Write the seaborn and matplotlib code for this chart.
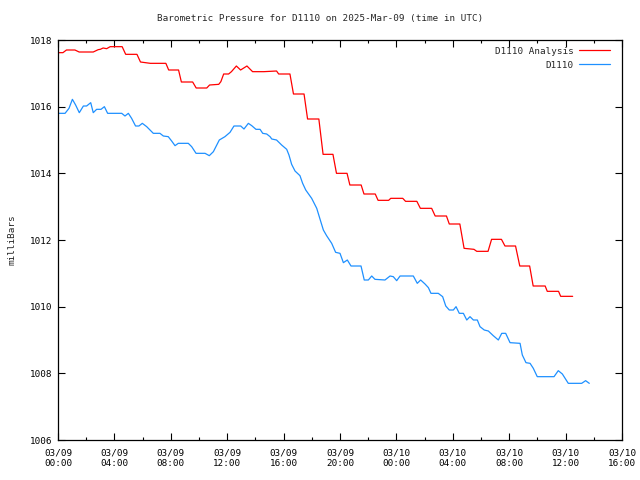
import matplotlib
matplotlib.use("Agg")
import pandas as pd
import seaborn as sns
from matplotlib import pyplot as plt
import matplotlib.dates as mdates

# hours after 2025-03-09 00:00 UTC, pressure in millibars
analysis_hours = [0.0, 0.35, 0.6, 1.2, 1.5, 2.5, 2.85, 3.0, 3.2, 3.45, 3.7, 4.55, 4.8,
                  5.6, 5.85, 6.55, 7.65, 7.85, 8.55, 8.75, 9.55, 9.8, 10.55, 10.75,
                  11.4, 11.55, 11.75, 12.1, 12.3, 12.65, 12.95, 13.4, 13.8, 14.6,
                  15.5, 15.65, 16.45, 16.7, 17.45, 17.7, 18.5, 18.8, 19.5, 19.75,
                  20.5, 20.7, 21.5, 21.7, 22.5, 22.7, 23.45, 23.6, 24.45, 24.65,
                  25.45, 25.7, 26.5, 26.75, 27.55, 27.75, 28.5, 28.8, 29.5, 29.7,
                  30.5, 30.75, 31.45, 31.7, 32.45, 32.75, 33.45, 33.7, 34.55, 34.7,
                  35.5, 35.65, 36.5]
analysis_mbar = [1017.62, 1017.62, 1017.70, 1017.70, 1017.64, 1017.64, 1017.71, 1017.72,
                 1017.76, 1017.74, 1017.80, 1017.80, 1017.57, 1017.57, 1017.34, 1017.30,
                 1017.30, 1017.10, 1017.10, 1016.74, 1016.74, 1016.56, 1016.56, 1016.65,
                 1016.67, 1016.75, 1016.98, 1016.98, 1017.05, 1017.22, 1017.10, 1017.22,
                 1017.05, 1017.05, 1017.07, 1016.98, 1016.98, 1016.38, 1016.38, 1015.63,
                 1015.63, 1014.57, 1014.57, 1014.00, 1014.00, 1013.65, 1013.65, 1013.38,
                 1013.38, 1013.19, 1013.19, 1013.25, 1013.25, 1013.16, 1013.16, 1012.95,
                 1012.95, 1012.72, 1012.72, 1012.48, 1012.48, 1011.75, 1011.72, 1011.66,
                 1011.66, 1012.02, 1012.02, 1011.82, 1011.82, 1011.22, 1011.22, 1010.62,
                 1010.62, 1010.46, 1010.46, 1010.31, 1010.31]

station_hours = [0.0, 0.5, 0.78, 1.02, 1.25, 1.51, 1.8, 2.03, 2.32, 2.5, 2.74, 3.05, 3.29,
                 3.52, 4.52, 4.75, 4.99, 5.22, 5.5, 5.74, 5.98, 6.29, 6.76, 7.23, 7.47,
                 7.82, 8.06, 8.3, 8.53, 9.24, 9.48, 9.79, 10.43, 10.73, 11.02, 11.44,
                 11.84, 12.2, 12.48, 12.96, 13.19, 13.5, 13.74, 14.04, 14.33, 14.52,
                 14.8, 15.04, 15.16, 15.5, 15.86, 16.22, 16.38, 16.57, 16.81, 17.16,
                 17.35, 17.57, 17.99, 18.35, 18.58, 18.82, 19.05, 19.41, 19.69, 20.0,
                 20.24, 20.52, 20.78, 21.49, 21.72, 22.01, 22.25, 22.48, 23.19, 23.55,
                 23.78, 24.02, 24.26, 25.2, 25.48, 25.72, 26.03, 26.27, 26.45, 26.97,
                 27.28, 27.5, 27.75, 28.04, 28.23, 28.46, 28.75, 28.99, 29.22, 29.46,
                 29.74, 29.93, 30.23, 30.52, 30.87, 31.23, 31.47, 31.75, 32.06, 32.77,
                 32.93, 33.19, 33.48, 33.71, 33.99, 35.18, 35.48, 35.77, 36.19, 37.14,
                 37.42, 37.68]
station_mbar = [1015.80, 1015.80, 1015.95, 1016.22, 1016.05, 1015.82, 1016.02, 1016.02,
                1016.12, 1015.82, 1015.92, 1015.92, 1016.00, 1015.80, 1015.80, 1015.72,
                1015.80, 1015.65, 1015.42, 1015.42, 1015.50, 1015.40, 1015.20, 1015.20,
                1015.12, 1015.10, 1014.97, 1014.83, 1014.90, 1014.90, 1014.80, 1014.60,
                1014.60, 1014.53, 1014.65, 1015.00, 1015.10, 1015.23, 1015.42, 1015.42,
                1015.33, 1015.50, 1015.43, 1015.32, 1015.32, 1015.20, 1015.18, 1015.10,
                1015.03, 1015.00, 1014.85, 1014.72, 1014.55, 1014.27, 1014.07, 1013.93,
                1013.70, 1013.50, 1013.25, 1012.95, 1012.63, 1012.30, 1012.13, 1011.90,
                1011.63, 1011.60, 1011.32, 1011.40, 1011.22, 1011.22, 1010.80, 1010.80,
                1010.92, 1010.82, 1010.80, 1010.92, 1010.90, 1010.78, 1010.92, 1010.92,
                1010.70, 1010.80, 1010.68, 1010.57, 1010.40, 1010.40, 1010.30, 1010.02,
                1009.90, 1009.90, 1010.00, 1009.80, 1009.80, 1009.60, 1009.70, 1009.60,
                1009.60, 1009.40, 1009.30, 1009.27, 1009.13, 1009.00, 1009.20, 1009.20,
                1008.92, 1008.90, 1008.55, 1008.32, 1008.30, 1008.15, 1007.90, 1007.90,
                1008.08, 1007.98, 1007.70, 1007.70, 1007.78, 1007.70]

series_names = ["D1110 Analysis", "D1110"]
series_colors = ["#ff0000", "#1e90ff"]
title = "Barometric Pressure for D1110 on 2025-Mar-09 (time in UTC)"
y_label = "milliBars"

start = pd.Timestamp("2025-03-09 00:00")


def to_frame(hours, values, name):
    return pd.DataFrame({"time": start + pd.to_timedelta(hours, unit="h"),
                         "mbar": values, "series": name})


def main():
    df = pd.concat([to_frame(analysis_hours, analysis_mbar, series_names[0]),
                    to_frame(station_hours, station_mbar, series_names[1])],
                   ignore_index=True)

    sns.set_style("ticks")
    plt.rcParams["font.family"] = ["DejaVu Sans Mono"]
    plt.rcParams["font.size"] = 6.7

    fig = plt.figure(figsize=(6.4, 4.8), dpi=100)
    ax = fig.add_axes([58 / 640, 40 / 480, 564 / 640, 400 / 480])

    sns.lineplot(data=df, x="time", y="mbar", hue="series",
                 palette=dict(zip(series_names, series_colors)),
                 sort=False, estimator=None, linewidth=0.9, ax=ax)

    ax.set_xlim(start, start + pd.Timedelta(hours=40))
    ax.set_ylim(1006, 1018)
    ax.set_yticks(range(1006, 1019, 2))
    ax.xaxis.set_major_locator(mdates.HourLocator(byhour=range(0, 24, 4)))
    ax.xaxis.set_minor_locator(mdates.HourLocator(byhour=range(0, 24, 2)))
    ax.xaxis.set_major_formatter(mdates.DateFormatter("%m/%d\n%H:%M"))

    ax.tick_params(which="both", direction="in", top=True, right=True,
                   colors="black", labelsize=6.7, width=0.8)
    ax.tick_params(which="major", length=5)
    ax.tick_params(axis="x", which="major", pad=6)
    ax.tick_params(axis="y", which="major", pad=4)
    ax.tick_params(which="minor", length=2.5)
    for label in ax.get_xticklabels():
        label.set_horizontalalignment("center")
    for spine in ax.spines.values():
        spine.set_visible(True)
        spine.set_linewidth(0.9)
        spine.set_color("black")

    ax.set_xlabel("")
    ax.set_ylabel(y_label, fontsize=6.7, labelpad=10)
    fig.text(0.5, 1 - 19 / 480, title, ha="center", va="center", fontsize=6.7)

    ax.legend(loc="upper right", bbox_to_anchor=(0.985, 0.993), frameon=False,
              markerfirst=False, fontsize=6.7, handlelength=3.3,
              handletextpad=0.6, labelspacing=0.55, borderaxespad=0)

    fig.savefig("out.png", dpi=100)


if __name__ == "__main__":
    main()
